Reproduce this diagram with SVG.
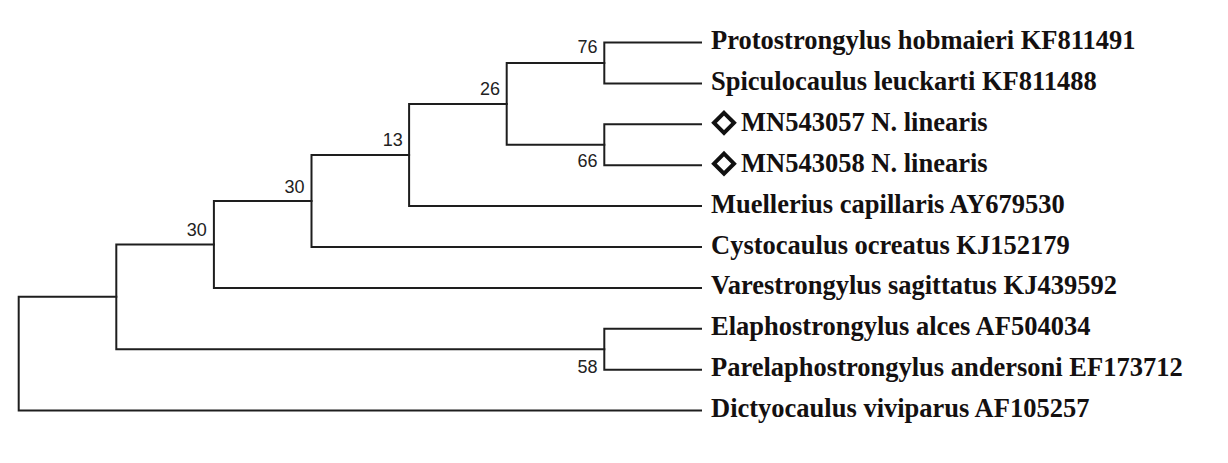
<svg xmlns="http://www.w3.org/2000/svg" width="1228" height="463" viewBox="0 0 1228 463">
<style>
.br{stroke:#1e1e1e;stroke-width:2;fill:none;stroke-linecap:square}
.bs{font-family:"Liberation Sans",Arial,sans-serif;font-size:18px;fill:#222;text-anchor:end}
.tx{font-family:"Liberation Serif","Times New Roman",serif;font-weight:bold;font-size:26.5px;fill:#141010}
.dm{fill:#fff;stroke:#111;stroke-width:4;stroke-linejoin:miter}
</style>
<rect width="1228" height="463" fill="#fff"/>
<g id="connectors">
<path class="br" d="M604.3,42.5H701M604.3,83.4H701M604.3,42.5V83.4"/>
<path class="br" d="M604.3,124.3H701M604.3,165.2H701M604.3,124.3V165.2"/>
<path class="br" d="M506.7,63H604.3M506.7,144.75H604.3M506.7,63V144.75"/>
<path class="br" d="M409.1,103.9H506.7M409.1,206.1H701M409.1,103.9V206.1"/>
<path class="br" d="M311.5,155H409.1M311.5,247H701M311.5,155V247"/>
<path class="br" d="M213.9,201H311.5M213.9,287.9H701M213.9,201V287.9"/>
<path class="br" d="M604.3,328.8H701M604.3,369.7H701M604.3,328.8V369.7"/>
<path class="br" d="M116.3,244.4H213.9M116.3,349.25H604.3M116.3,244.4V349.25"/>
<path class="br" d="M18.7,296.8H116.3M18.7,410.6H701M18.7,296.8V410.6"/>
</g>
<g id="bootstrap">
<text class="bs" x="597.5" y="53.3">76</text>
<text class="bs" x="597.5" y="166.7">66</text>
<text class="bs" x="500" y="95">26</text>
<text class="bs" x="402.7" y="146">13</text>
<text class="bs" x="304.5" y="192.5">30</text>
<text class="bs" x="206.7" y="236">30</text>
<text class="bs" x="597.5" y="372.5">58</text>
</g>
<g id="leaf-protostrongylus"><text class="tx" x="711" y="49">Protostrongylus hobmaieri KF811491</text></g>
<g id="leaf-spiculocaulus"><text class="tx" x="711" y="89.9">Spiculocaulus leuckarti KF811488</text></g>
<g id="leaf-mn543057"><path class="dm" d="M724,112.8L734,122.8L724,132.8L714,122.8Z"/><text class="tx" x="741" y="130.8">MN543057 N. linearis</text></g>
<g id="leaf-mn543058"><path class="dm" d="M724,153.7L734,163.7L724,173.7L714,163.7Z"/><text class="tx" x="741" y="171.7">MN543058 N. linearis</text></g>
<g id="leaf-muellerius"><text class="tx" x="711" y="212.6">Muellerius capillaris AY679530</text></g>
<g id="leaf-cystocaulus"><text class="tx" x="711" y="253.5">Cystocaulus ocreatus KJ152179</text></g>
<g id="leaf-varestrongylus"><text class="tx" x="711" y="294.4">Varestrongylus sagittatus KJ439592</text></g>
<g id="leaf-elaphostrongylus"><text class="tx" x="711" y="335.3">Elaphostrongylus alces AF504034</text></g>
<g id="leaf-parelaphostrongylus"><text class="tx" x="711" y="376.2">Parelaphostrongylus andersoni EF173712</text></g>
<g id="leaf-dictyocaulus"><text class="tx" x="711" y="417.1">Dictyocaulus viviparus AF105257</text></g>
</svg>
